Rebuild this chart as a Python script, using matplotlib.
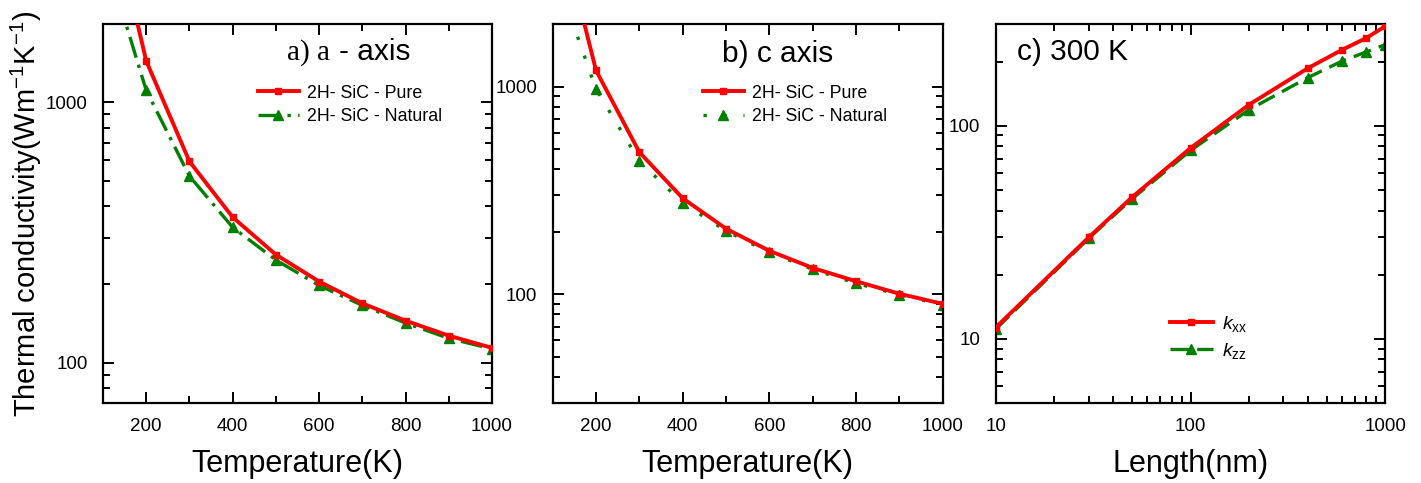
import matplotlib
matplotlib.use("Agg")
import matplotlib.pyplot as plt
from matplotlib.ticker import FixedLocator, FuncFormatter, NullFormatter, MultipleLocator

plt.rcParams['font.family'] = ['Liberation Sans', 'DejaVu Sans']
plt.rcParams['mathtext.fontset'] = 'custom'
plt.rcParams['mathtext.rm'] = 'Liberation Sans'
plt.rcParams['mathtext.it'] = 'Liberation Sans:italic'

# ---- data ----
temperature = [100, 200, 300, 400, 500, 600, 700, 800, 900, 1000]
a_pure = [7400, 1442, 593, 362, 260, 205, 169, 145, 127, 114]
a_natural = [3880, 1112, 521, 331, 248, 198, 166, 142, 124, 113]
c_pure = [8100, 1195, 483, 290, 207, 162, 134, 115.6, 100.7, 90]
c_natural = [3800, 971, 438, 275, 202, 159, 132, 113, 99.6, 89]
length_nm = [10, 30, 50, 100, 200, 400, 600, 800, 1000]
k_xx = [11.3, 29.9, 46.1, 78.5, 125.6, 186, 227, 258, 293]
k_zz = [11.1, 29.6, 45.3, 76.5, 119, 168, 201, 222, 240]

RED = '#ff0000'
GREEN = '#008000'
W, H = 1421, 483

fig = plt.figure(figsize=(W / 100, H / 100), dpi=100)

def px_axes(l, r, t=24, b=403):
    return fig.add_axes([l / W, (H - b) / H, (r - l) / W, (b - t) / H])

ax_a = px_axes(103, 492)
ax_b = px_axes(552.7, 942.7)
ax_c = px_axes(995.7, 1385.3)

plainfmt = FuncFormatter(lambda v, p: f"{v:g}")

def style(ax):
    for s in ax.spines.values():
        s.set_linewidth(1.6)
    ax.tick_params(which='both', direction='in', top=True, right=True, labelsize=13.5, width=1.4, pad=11)
    ax.tick_params(which='major', length=8)
    ax.tick_params(which='minor', length=5)
    ax.yaxis.set_major_formatter(plainfmt)
    ax.yaxis.set_minor_formatter(NullFormatter())

LEG = dict(frameon=False, handletextpad=0.45, labelspacing=0.35, borderpad=0, borderaxespad=0)

# ---- panel a ----
ax_a.set_yscale('log')
ax_a.plot(temperature, a_pure, color=RED, lw=2.8, marker='s', ms=5, label='2H- SiC - Pure', zorder=3)
ln, = ax_a.plot(temperature, a_natural, color=GREEN, lw=2.4, marker='^', ms=7, label='2H- SiC - Natural', zorder=2)
ln.set_dashes([6.5, 2.2, 1, 2.2])
ax_a.set_xlim(100, 1000)
ax_a.set_ylim(70, 2000)
ax_a.xaxis.set_major_locator(FixedLocator([200, 400, 600, 800, 1000]))
ax_a.xaxis.set_minor_locator(MultipleLocator(100))
style(ax_a)
ax_a.set_xlabel('Temperature(K)', fontsize=22, labelpad=10)
ax_a.set_ylabel('Thermal conductivity(Wm$^{-1}$K$^{-1}$)', fontsize=21, labelpad=1)
ax_a.text(0.473, 0.925, 'a) a', transform=ax_a.transAxes, fontsize=21,
          family=['Liberation Serif', 'DejaVu Serif'], va='center', ha='left')
ax_a.text(0.607, 0.925, '- axis', transform=ax_a.transAxes, fontsize=21.5, va='center', ha='left')
ax_a.legend(loc='upper left', bbox_to_anchor=(0.398, 0.84), fontsize=12.8, handlelength=2.3, **LEG)

# ---- panel b ----
ax_b.set_yscale('log')
ax_b.plot(temperature, c_pure, color=RED, lw=2.8, marker='s', ms=5, label='2H- SiC - Pure', zorder=3)
ln, = ax_b.plot(temperature, c_natural, color=GREEN, lw=2.4, marker='^', ms=7, label='2H- SiC - Natural', zorder=2)
ln.set_dashes([1, 5])
ax_b.set_xlim(100, 1000)
ax_b.set_ylim(30, 2000)
ax_b.xaxis.set_major_locator(FixedLocator([200, 400, 600, 800, 1000]))
ax_b.xaxis.set_minor_locator(MultipleLocator(100))
style(ax_b)
ax_b.set_xlabel('Temperature(K)', fontsize=22, labelpad=10)
ax_b.text(0.435, 0.92, 'b) c axis', transform=ax_b.transAxes, fontsize=21.5, va='center', ha='left')
ax_b.legend(loc='upper left', bbox_to_anchor=(0.385, 0.84), fontsize=12.8, handlelength=2.3, **LEG)

# ---- panel c ----
ax_c.set_xscale('log')
ax_c.set_yscale('log')
ax_c.plot(length_nm, k_xx, color=RED, lw=2.8, marker='s', ms=5, label=r'$\it{k}_{\rm{xx}}$', zorder=3)
ln, = ax_c.plot(length_nm, k_zz, color=GREEN, lw=2.4, marker='^', ms=7, label=r'$\it{k}_{\rm{zz}}$', zorder=2)
ln.set_dashes([5.5, 2.5])
ax_c.set_xlim(10, 1000)
ax_c.set_ylim(5, 300)
ax_c.xaxis.set_major_formatter(plainfmt)
ax_c.xaxis.set_minor_formatter(NullFormatter())
style(ax_c)
ax_c.set_xlabel('Length(nm)', fontsize=22, labelpad=10)
ax_c.text(0.055, 0.925, 'c) 300 K', transform=ax_c.transAxes, fontsize=21.5, va='center', ha='left')
ax_c.legend(loc='upper left', bbox_to_anchor=(0.447, 0.235), fontsize=14, handlelength=2.2,
            frameon=False, handletextpad=0.5, labelspacing=0.35, borderpad=0, borderaxespad=0)

fig.savefig('out.png', dpi=100)
